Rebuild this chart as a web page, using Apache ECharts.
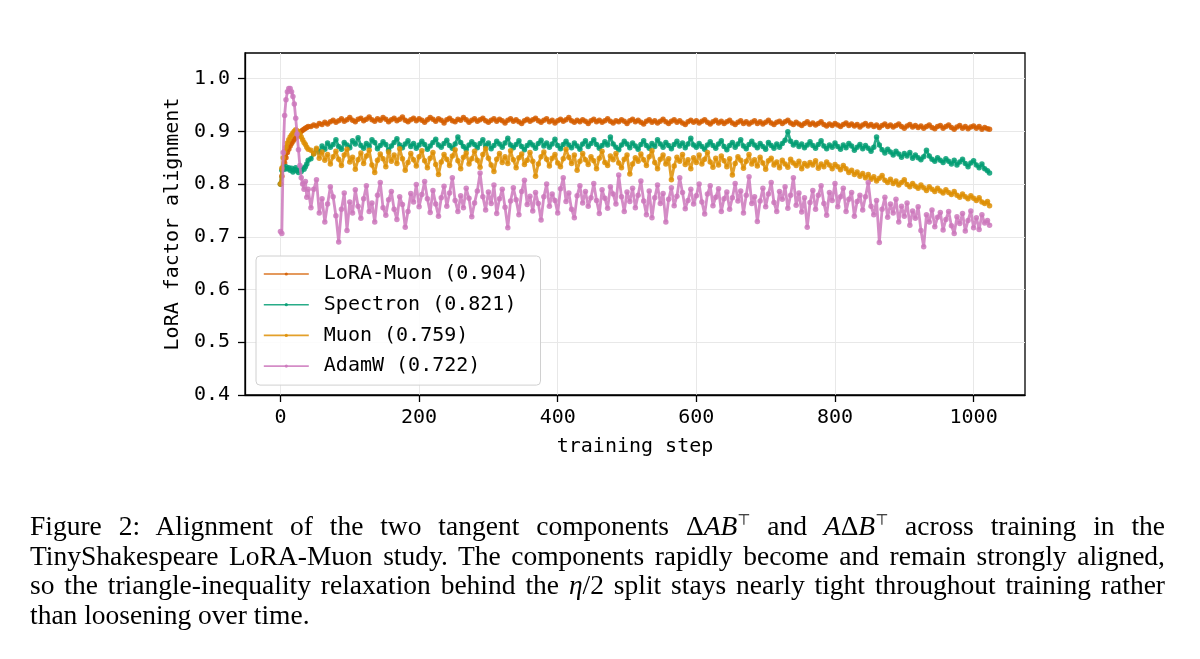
<!DOCTYPE html>
<html>
<head>
<meta charset="utf-8">
<script src="https://cdn.jsdelivr.net/npm/echarts@6/dist/echarts.min.js"></script>
<style>
  html, body { margin: 0; padding: 0; background: #fff; }
  #wrap { position: relative; width: 1200px; height: 659px; overflow: hidden; }
  #chart { position: absolute; left: 0; top: 0; width: 1200px; height: 659px; }
  #caption { position: absolute; left: 30px; top: 511px; width: 1135px;
    font-family: "Liberation Serif", "DejaVu Serif", serif; font-size: 27.5px; line-height: 29.5px; color: #000; }
  #caption div { white-space: nowrap; }
  #caption .j { text-align: justify; text-align-last: justify; white-space: normal; }
  #caption .sup { font-family: "DejaVu Sans", sans-serif; font-size: 15px; vertical-align: 10px; line-height: 0; }
</style>
</head>
<body>
<div id="wrap">
  <div id="chart"></div>
  <div id="caption">
    <div class="j">Figure 2: Alignment of the two tangent components Δ<i>AB</i><span class="sup">⊤</span> and <i>A</i>Δ<i>B</i><span class="sup">⊤</span> across training in the</div>
    <div class="j">TinyShakespeare LoRA-Muon study. The components rapidly become and remain strongly aligned,</div>
    <div class="j">so the triangle-inequality relaxation behind the <i>η</i>/2 split stays nearly tight throughout training rather</div>
    <div>than loosening over time.</div>
  </div>
</div>
<script>
// sampled training steps (every 2 steps at the start, every 4 afterwards)
var steps = [
  0, 2, 4, 6, 8, 10, 12, 14, 16, 18, 20, 22, 24, 26, 28, 30, 32, 34, 36, 38, 40,
  44, 48, 52, 56, 60, 64, 68, 72, 76, 80,
  84, 88, 92, 96, 100, 104, 108, 112, 116, 120,
  124, 128, 132, 136, 140, 144, 148, 152, 156, 160,
  164, 168, 172, 176, 180, 184, 188, 192, 196, 200,
  204, 208, 212, 216, 220, 224, 228, 232, 236, 240,
  244, 248, 252, 256, 260, 264, 268, 272, 276, 280,
  284, 288, 292, 296, 300, 304, 308, 312, 316, 320,
  324, 328, 332, 336, 340, 344, 348, 352, 356, 360,
  364, 368, 372, 376, 380, 384, 388, 392, 396, 400,
  404, 408, 412, 416, 420, 424, 428, 432, 436, 440,
  444, 448, 452, 456, 460, 464, 468, 472, 476, 480,
  484, 488, 492, 496, 500, 504, 508, 512, 516, 520,
  524, 528, 532, 536, 540, 544, 548, 552, 556, 560,
  564, 568, 572, 576, 580, 584, 588, 592, 596, 600,
  604, 608, 612, 616, 620, 624, 628, 632, 636, 640,
  644, 648, 652, 656, 660, 664, 668, 672, 676, 680,
  684, 688, 692, 696, 700, 704, 708, 712, 716, 720,
  724, 728, 732, 736, 740, 744, 748, 752, 756, 760,
  764, 768, 772, 776, 780, 784, 788, 792, 796, 800,
  804, 808, 812, 816, 820, 824, 828, 832, 836, 840,
  844, 848, 852, 856, 860, 864, 868, 872, 876, 880,
  884, 888, 892, 896, 900, 904, 908, 912, 916, 920,
  924, 928, 932, 936, 940, 944, 948, 952, 956, 960,
  964, 968, 972, 976, 980, 984, 988, 992, 996, 1000,
  1004, 1008, 1012, 1016, 1020, 1023
];

var loraMuon = [
  0.80, 0.815, 0.83, 0.84, 0.85, 0.86, 0.866, 0.872, 0.877, 0.881, 0.885, 0.888, 0.891, 0.894, 0.897, 0.90, 0.902, 0.904, 0.906, 0.907, 0.909,
  0.909, 0.912, 0.910, 0.915, 0.913, 0.917, 0.914, 0.918, 0.921, 0.917,
  0.920, 0.924, 0.919, 0.922, 0.926, 0.921, 0.918, 0.923, 0.925, 0.920,
  0.923, 0.927, 0.922, 0.919, 0.924, 0.921, 0.926, 0.923, 0.918, 0.922,
  0.925, 0.920, 0.923, 0.927, 0.921, 0.918, 0.922, 0.925, 0.920, 0.924,
  0.921, 0.917, 0.922, 0.926, 0.923, 0.919, 0.924, 0.921, 0.916, 0.922,
  0.925, 0.920, 0.918, 0.923, 0.921, 0.926, 0.922, 0.917, 0.921, 0.924,
  0.919, 0.922, 0.925, 0.920, 0.917, 0.921, 0.924, 0.919, 0.923, 0.920,
  0.916, 0.921, 0.924, 0.919, 0.922, 0.918, 0.915, 0.920, 0.923, 0.919,
  0.922, 0.925, 0.920, 0.917, 0.921, 0.924, 0.918, 0.921, 0.916, 0.920,
  0.923, 0.919, 0.922, 0.926, 0.920, 0.917, 0.921, 0.918, 0.922, 0.919,
  0.915, 0.920, 0.923, 0.918, 0.921, 0.917, 0.920, 0.924, 0.919, 0.916,
  0.920, 0.918, 0.922, 0.919, 0.915, 0.920, 0.923, 0.918, 0.921, 0.917,
  0.914, 0.919, 0.922, 0.917, 0.920, 0.916, 0.919, 0.923, 0.918, 0.915,
  0.919, 0.922, 0.917, 0.920, 0.916, 0.913, 0.918, 0.921, 0.917, 0.920,
  0.916, 0.919, 0.922, 0.917, 0.914, 0.918, 0.921, 0.916, 0.919, 0.915,
  0.918, 0.921, 0.916, 0.913, 0.917, 0.920, 0.915, 0.918, 0.914, 0.917,
  0.920, 0.915, 0.918, 0.914, 0.917, 0.921, 0.916, 0.913, 0.917, 0.919,
  0.915, 0.918, 0.921, 0.916, 0.913, 0.917, 0.914, 0.911, 0.915, 0.918,
  0.913, 0.916, 0.912, 0.915, 0.918, 0.913, 0.910, 0.914, 0.911, 0.915,
  0.912, 0.909, 0.913, 0.916, 0.911, 0.914, 0.910, 0.913, 0.908, 0.912,
  0.915, 0.910, 0.913, 0.909, 0.912, 0.907, 0.911, 0.914, 0.909, 0.912,
  0.908, 0.911, 0.914, 0.909, 0.906, 0.910, 0.913, 0.908, 0.911, 0.907,
  0.910, 0.906, 0.909, 0.912, 0.907, 0.905, 0.909, 0.911, 0.906, 0.909,
  0.912, 0.907, 0.904, 0.908, 0.911, 0.906, 0.909, 0.905, 0.908, 0.910,
  0.906, 0.909, 0.904, 0.907, 0.905, 0.904
];

var spectron = [
  0.80, 0.826, 0.832, 0.828, 0.833, 0.829, 0.831, 0.826, 0.830, 0.823, 0.827, 0.831, 0.825, 0.822, 0.827, 0.824, 0.830, 0.828, 0.833, 0.838, 0.845,
  0.848, 0.858, 0.865, 0.861, 0.872, 0.866, 0.878, 0.870, 0.875, 0.884,
  0.871, 0.866, 0.879, 0.874, 0.869, 0.882, 0.876, 0.888, 0.873, 0.868,
  0.877, 0.871, 0.884, 0.879, 0.867, 0.873, 0.880, 0.875, 0.864, 0.872,
  0.879, 0.886, 0.874, 0.869, 0.876, 0.882, 0.871, 0.877, 0.868, 0.874,
  0.881, 0.875, 0.866, 0.872, 0.879, 0.885, 0.874, 0.870, 0.877, 0.883,
  0.873, 0.868, 0.876, 0.889, 0.879, 0.871, 0.866, 0.874, 0.880, 0.875,
  0.869, 0.877, 0.884, 0.872, 0.878, 0.867, 0.873, 0.881, 0.876, 0.870,
  0.878, 0.887, 0.874, 0.869, 0.875, 0.882, 0.871, 0.865, 0.873, 0.879,
  0.874, 0.868, 0.877, 0.883, 0.872, 0.878, 0.870, 0.876, 0.885, 0.873,
  0.867, 0.875, 0.881, 0.874, 0.869, 0.878, 0.872, 0.866, 0.876, 0.882,
  0.871, 0.877, 0.884, 0.875, 0.868, 0.873, 0.880, 0.874, 0.889, 0.876,
  0.870, 0.865, 0.874, 0.881, 0.876, 0.869, 0.878, 0.872, 0.866, 0.875,
  0.882, 0.873, 0.868, 0.877, 0.871, 0.884, 0.876, 0.870, 0.879, 0.873,
  0.867, 0.875, 0.881, 0.872, 0.878, 0.869, 0.876, 0.887, 0.874, 0.870,
  0.877, 0.871, 0.866, 0.874, 0.880, 0.873, 0.868, 0.876, 0.882, 0.871,
  0.865, 0.873, 0.879, 0.870, 0.876, 0.884, 0.872, 0.867, 0.875, 0.881,
  0.874, 0.869, 0.877, 0.871, 0.866, 0.879, 0.873, 0.868, 0.876, 0.870,
  0.877, 0.883, 0.899, 0.881, 0.874, 0.879, 0.871, 0.876, 0.869, 0.874,
  0.880, 0.873, 0.868, 0.875, 0.882, 0.872, 0.867, 0.874, 0.870, 0.878,
  0.871, 0.866, 0.874, 0.869, 0.877, 0.872, 0.864, 0.870, 0.875, 0.867,
  0.873, 0.868, 0.862, 0.870, 0.889, 0.874, 0.865, 0.859, 0.866, 0.861,
  0.855, 0.862, 0.857, 0.851, 0.858, 0.853, 0.860, 0.849, 0.855, 0.850,
  0.846, 0.852, 0.864, 0.853, 0.847, 0.843, 0.850, 0.845, 0.841, 0.848,
  0.843, 0.838, 0.845, 0.836, 0.842, 0.847, 0.839, 0.833, 0.840, 0.844,
  0.836, 0.831, 0.838, 0.829, 0.825, 0.821
];

var muon = [
  0.80, 0.83, 0.85, 0.862, 0.87, 0.878, 0.884, 0.889, 0.893, 0.897, 0.90, 0.903, 0.901, 0.898, 0.894, 0.889, 0.884, 0.879, 0.875, 0.87, 0.866,
  0.864, 0.857, 0.868, 0.849, 0.861, 0.845, 0.856, 0.838, 0.852, 0.862,
  0.847, 0.835, 0.855, 0.866, 0.842, 0.851, 0.828, 0.846, 0.859, 0.839,
  0.853, 0.864, 0.836, 0.822, 0.845, 0.857, 0.848, 0.833, 0.861, 0.843,
  0.855, 0.839, 0.867, 0.848, 0.826, 0.841, 0.858, 0.846, 0.834, 0.852,
  0.863, 0.844, 0.831, 0.849, 0.860, 0.837, 0.818, 0.842, 0.856, 0.847,
  0.835, 0.853, 0.865, 0.844, 0.829, 0.851, 0.859, 0.838, 0.848, 0.862,
  0.845, 0.832, 0.856, 0.867, 0.849, 0.836, 0.824, 0.847, 0.858, 0.841,
  0.852, 0.839, 0.863, 0.846, 0.831, 0.850, 0.857, 0.837, 0.845, 0.860,
  0.843, 0.815, 0.838, 0.852, 0.861, 0.847, 0.834, 0.849, 0.856, 0.840,
  0.833, 0.848, 0.866, 0.851, 0.839, 0.855, 0.826, 0.843, 0.858, 0.846,
  0.837, 0.852, 0.844, 0.829, 0.849, 0.862, 0.841, 0.835, 0.853, 0.846,
  0.858, 0.840, 0.831, 0.847, 0.855, 0.819, 0.838, 0.850, 0.843, 0.857,
  0.846, 0.835, 0.852, 0.863, 0.841, 0.829, 0.847, 0.855, 0.838, 0.848,
  0.808, 0.834, 0.851, 0.843, 0.856, 0.837, 0.846, 0.829, 0.850, 0.841,
  0.855, 0.838, 0.847, 0.860, 0.842, 0.832, 0.849, 0.836, 0.853, 0.844,
  0.833, 0.848, 0.817, 0.839, 0.852, 0.845, 0.830, 0.843, 0.856, 0.838,
  0.846, 0.834, 0.851, 0.840, 0.828, 0.844, 0.849, 0.836, 0.842, 0.831,
  0.845, 0.838, 0.832, 0.847, 0.840, 0.835, 0.843, 0.829, 0.839, 0.834,
  0.841, 0.836, 0.844, 0.830, 0.838, 0.833, 0.842, 0.836, 0.829, 0.837,
  0.833, 0.827, 0.835, 0.829, 0.822, 0.826, 0.818, 0.823, 0.815, 0.820,
  0.812, 0.818, 0.809, 0.814, 0.806, 0.811, 0.816, 0.807, 0.803, 0.809,
  0.801, 0.806, 0.798, 0.803, 0.808, 0.799, 0.795, 0.801, 0.796, 0.792,
  0.798, 0.793, 0.788, 0.795, 0.790, 0.786, 0.792, 0.787, 0.783, 0.789,
  0.784, 0.780, 0.786, 0.779, 0.775, 0.781, 0.776, 0.772, 0.778, 0.773,
  0.769, 0.774, 0.766, 0.763, 0.767, 0.759
];

var adamW = [
  0.71, 0.706, 0.86, 0.93, 0.96, 0.975, 0.981, 0.981, 0.975, 0.966, 0.952, 0.925, 0.895, 0.865, 0.835, 0.812, 0.80, 0.79, 0.805, 0.775, 0.79,
  0.755, 0.79, 0.808, 0.745, 0.772, 0.728, 0.762, 0.795, 0.776, 0.74,
  0.69, 0.752, 0.783, 0.712, 0.766, 0.745, 0.789, 0.758, 0.735, 0.772,
  0.797, 0.748, 0.764, 0.728, 0.779, 0.803, 0.755, 0.741, 0.77, 0.786,
  0.752, 0.733, 0.776, 0.761, 0.718, 0.748, 0.782, 0.766, 0.799, 0.757,
  0.78, 0.805, 0.772, 0.746, 0.788, 0.762, 0.739, 0.774, 0.796, 0.758,
  0.783, 0.812, 0.769, 0.748, 0.778, 0.755, 0.792, 0.773, 0.738, 0.764,
  0.787, 0.821, 0.776, 0.751, 0.785, 0.763, 0.798, 0.744, 0.772, 0.79,
  0.756, 0.717, 0.768, 0.793, 0.77, 0.742, 0.786, 0.807, 0.761, 0.777,
  0.749, 0.784, 0.763, 0.732, 0.776, 0.80, 0.758, 0.781, 0.769, 0.745,
  0.791, 0.812, 0.767, 0.783, 0.752, 0.736, 0.778, 0.797, 0.764, 0.786,
  0.758, 0.774, 0.801, 0.769, 0.744, 0.789, 0.773, 0.754, 0.795, 0.781,
  0.762, 0.817, 0.776, 0.748, 0.785, 0.767, 0.792, 0.755, 0.779, 0.806,
  0.768, 0.742, 0.787, 0.736, 0.774, 0.798, 0.763, 0.782, 0.728, 0.771,
  0.793, 0.759, 0.777, 0.812, 0.784, 0.753, 0.769, 0.79, 0.762, 0.778,
  0.80, 0.766, 0.743, 0.781, 0.797, 0.759, 0.775, 0.791, 0.748, 0.772,
  0.785, 0.752, 0.774, 0.801, 0.768, 0.787, 0.745, 0.779, 0.814, 0.763,
  0.776, 0.729, 0.768, 0.792, 0.757, 0.781, 0.803, 0.765, 0.748, 0.786,
  0.771, 0.795, 0.754, 0.779, 0.812, 0.76, 0.783, 0.747, 0.774, 0.718,
  0.765, 0.788, 0.752, 0.779, 0.797, 0.763, 0.741, 0.784, 0.769, 0.801,
  0.757, 0.776, 0.792, 0.748, 0.771, 0.784, 0.739, 0.767, 0.779, 0.751,
  0.776, 0.803, 0.758, 0.742, 0.769, 0.689, 0.752, 0.775, 0.737, 0.762,
  0.745, 0.771, 0.728, 0.758, 0.739, 0.764, 0.722, 0.749, 0.735, 0.757,
  0.712, 0.681, 0.742, 0.728, 0.751, 0.719, 0.737, 0.746, 0.713, 0.733,
  0.748, 0.721, 0.706, 0.738, 0.725, 0.744, 0.711, 0.731, 0.749, 0.717,
  0.736, 0.714, 0.742, 0.726, 0.731, 0.722
];

var seriesNames = ['LoRA-Muon (0.904)', 'Spectron (0.821)', 'Muon (0.759)', 'AdamW (0.722)'];
var seriesColors = ['#D55E00', '#029E73', '#DE8F05', '#CC78BC'];
var seriesValues = [loraMuon, spectron, muon, adamW];
var xTicks = [0, 200, 400, 600, 800, 1000];
var yTicks = [0.4, 0.5, 0.6, 0.7, 0.8, 0.9, 1.0];

var mono = 'DejaVu Sans Mono';
var chart = echarts.init(document.getElementById('chart'));

chart.setOption({
  animation: false,
  grid: {
    left: 245, top: 53, width: 780, height: 342,
    show: true, borderColor: '#000', borderWidth: 1.3, backgroundColor: 'transparent'
  },
  legend: {
    orient: 'vertical',
    left: 256, top: 256,
    padding: [8, 12, 9, 7],
    itemWidth: 45, itemHeight: 4, itemGap: 10.7,
    backgroundColor: 'rgba(255,255,255,0.85)',
    borderColor: '#d0d0d0', borderWidth: 1, borderRadius: 4,
    lineStyle: { width: 1.6, opacity: 0.85 },
    textStyle: { fontFamily: mono, fontSize: 20, color: '#000', lineHeight: 20, padding: [0, 0, 0, 10] },
    data: seriesNames
  },
  xAxis: {
    type: 'value', min: -51.15, max: 1074.15,
    name: 'training step', nameLocation: 'middle', nameGap: 42,
    nameTextStyle: { fontFamily: mono, fontSize: 20, color: '#000' },
    axisLine: { show: true, onZero: false, lineStyle: { color: '#000', width: 1.3 } },
    axisTick: { show: true, length: 7, customValues: xTicks, lineStyle: { color: '#000', width: 1.3 } },
    axisLabel: {
      customValues: xTicks, margin: 13, fontFamily: mono, fontSize: 20, color: '#000',
      formatter: function (v) { return String(v); }
    },
    splitLine: { show: true, lineStyle: { color: '#e8e8e8', width: 1 } }
  },
  yAxis: {
    type: 'value', min: 0.4, max: 1.0485,
    name: 'LoRA factor alignment', nameLocation: 'middle', nameGap: 62, nameRotate: 90,
    nameTextStyle: { fontFamily: mono, fontSize: 20, color: '#000' },
    axisLine: { show: true, onZero: false, lineStyle: { color: '#000', width: 1.3 } },
    axisTick: { show: true, length: 7, customValues: yTicks, lineStyle: { color: '#000', width: 1.3 } },
    axisLabel: {
      customValues: yTicks, margin: 15, fontFamily: mono, fontSize: 20, color: '#000',
      formatter: function (v) { return v.toFixed(1); }
    },
    splitLine: { show: true, lineStyle: { color: '#e8e8e8', width: 1 } }
  },
  series: seriesNames.map(function (name, k) {
    return {
      name: name,
      type: 'line',
      data: steps.map(function (s, i) { return [s, seriesValues[k][i]]; }),
      symbol: 'circle', symbolSize: 5.5, showSymbol: true,
      color: seriesColors[k],
      itemStyle: { color: seriesColors[k], opacity: 0.85 },
      lineStyle: { color: seriesColors[k], width: 2.8, opacity: 0.85 },
      z: 2 + k
    };
  })
});
</script>
</body>
</html>
